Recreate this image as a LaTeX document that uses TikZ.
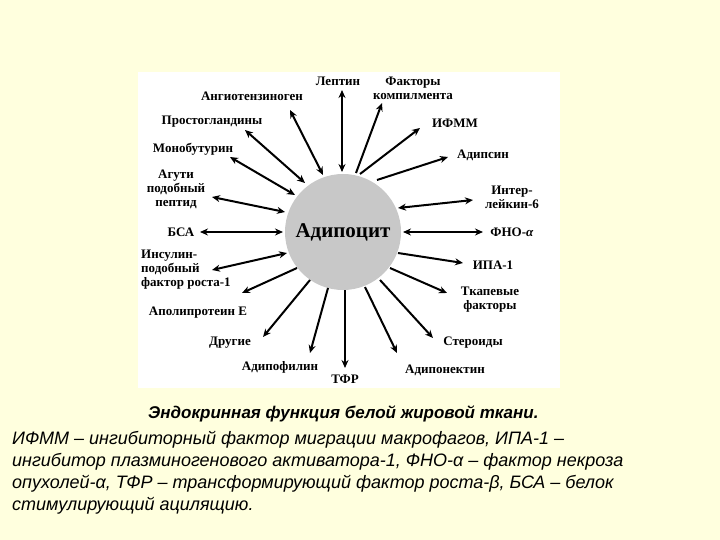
\documentclass[tikz,border=0pt]{standalone}
\usepackage{fontspec}
\setmainfont{Liberation Serif}
\newfontfamily\capfont{Liberation Sans}
\usetikzlibrary{arrows.meta}
\definecolor{bg}{RGB}{255,255,222}
\definecolor{cell}{RGB}{200,200,200}
\begin{document}
\begin{tikzpicture}[x=1pt,y=-1pt,
  lab/.style={font=\bfseries\fontsize{13}{14}\selectfont,align=center,inner sep=0pt},
  arr/.style={line width=2pt,-{Stealth[length=8pt,width=7pt]}},
  darr/.style={line width=2pt,{Stealth[length=8pt,width=7pt]}-{Stealth[length=8pt,width=7pt]}},
  captext/.style={font=\capfont\itshape\fontsize{18}{20}\selectfont,inner sep=0pt,anchor=west}]
\fill[bg] (0,0) rectangle (720,540);
\useasboundingbox (0,0) rectangle (720,540);
\fill[white] (138,72) rectangle (560,388);
\node[circle,fill=cell,minimum size=116pt,inner sep=0pt] (c) at (343,232) {};
\node[font=\bfseries\fontsize{21}{21}\selectfont] (ct) at (343,232) {Адипоцит};
\draw[darr] (342,172) coordinate (lepa) -- (342,90) coordinate (lepb);
\draw[darr] (323,175) coordinate (anga) -- (290,110) coordinate (angb);
\draw[darr] (305,183) coordinate (proa) -- (245,130) coordinate (prob);
\draw[darr] (295,195) coordinate (mona) -- (230,157) coordinate (monb);
\draw[darr] (285,212) coordinate (agua) -- (212,197) coordinate (agub);
\draw[darr] (283,232) coordinate (bsaa) -- (200,232) coordinate (bsab);
\draw[darr] (287,253) coordinate (insa) -- (212,270) coordinate (insb);
\draw[darr] (398,208) coordinate (ila) -- (473,200) coordinate (ilb);
\draw[darr] (403,232) coordinate (fnoa) -- (483,232) coordinate (fnob);
\draw[arr] (297,268) coordinate (apoa) -- (242,293) coordinate (apob);
\draw[arr] (310,280) coordinate (dra) -- (263,337) coordinate (drb);
\draw[arr] (328,288) coordinate (adfa) -- (310,353) coordinate (adfb);
\draw[arr] (345,290) coordinate (tfra) -- (345,368) coordinate (tfrb);
\draw[arr] (365,287) coordinate (adna) -- (397,353) coordinate (adnb);
\draw[arr] (380,280) coordinate (sta) -- (433,338) coordinate (stb);
\draw[arr] (390,268) coordinate (tka) -- (447,293) coordinate (tkb);
\draw[arr] (398,253) coordinate (ipa) -- (463,263) coordinate (ipb);
\draw[arr] (377,180) coordinate (adsa) -- (448,157) coordinate (adsb);
\draw[arr] (360,174) coordinate (ifa) -- (420,128) coordinate (ifb);
\draw[arr] (356,173) coordinate (koa) -- (382,103) coordinate (kob);
% labels
\node[lab] (l1) at (338,81) {Лептин};
\node[lab] (l2) at (413,88) {Факторы\\компилмента};
\node[lab] (l3) at (252,96) {Ангиотензиноген};
\node[lab] (l4) at (212,122) {Простогландины};
\node[lab] (l5) at (193,149) {Монобутурин};
\node[lab] (l6) at (176,189) {Агути\\подобный\\пептид};
\node[lab] (l7) at (181,232) {БСА};
\node[lab,align=left,anchor=west] (l8) at (141,270) {Инсулин-\\подобный\\фактор роста-1};
\node[lab] (l9) at (198,313) {Аполипротеин Е};
\node[lab] (l10) at (230,343) {Другие};
\node[lab] (l11) at (280,367) {Адипофилин};
\node[lab] (l12) at (345,379) {ТФР};
\node[lab] (l13) at (445,370) {Адипонектин};
\node[lab] (l14) at (473,343) {Стероиды};
\node[lab] (l15) at (490,300) {Ткапевые\\факторы};
\node[lab] (l16) at (493,265) {ИПА-1};
\node[lab] (l17) at (512,232) {ФНО-\textit{α}};
\node[lab] (l18) at (512,197) {Интер-\\лейкин-6};
\node[lab] (l19) at (483,155) {Адипсин};
\node[lab] (l20) at (455,123) {ИФММ};
% caption
\node[captext,font=\capfont\bfseries\itshape\fontsize{17}{20}\selectfont] (t1) at (148,414) {Эндокринная функция белой жировой ткани.};
\node[captext] (t2) at (12,440) {ИФММ – ингибиторный фактор миграции макрофагов, ИПА-1 –};
\node[captext] (t3) at (12,462) {ингибитор плазминогенового активатора-1, ФНО-α – фактор некроза};
\node[captext] (t4) at (12,484) {опухолей-α, ТФР – трансформирующий фактор роста-β, БСА – белок};
\node[captext] (t5) at (12,506) {стимулирующий ацилящию.};
\end{tikzpicture}
\end{document}
